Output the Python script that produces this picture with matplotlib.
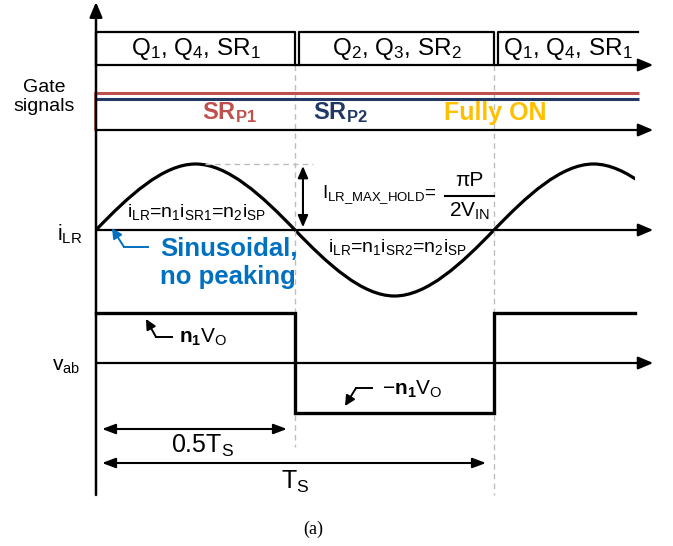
import matplotlib
matplotlib.use("Agg")
import matplotlib.pyplot as plt
import numpy as np
from matplotlib.path import Path
from matplotlib.patches import PathPatch, Rectangle
from matplotlib.transforms import Affine2D

plt.rcParams['font.family'] = ['Liberation Sans', 'DejaVu Sans']
plt.rcParams['mathtext.fontset'] = 'custom'
plt.rcParams['mathtext.rm'] = 'Liberation Sans'
plt.rcParams['mathtext.it'] = 'Liberation Sans'
plt.rcParams['mathtext.bf'] = 'Liberation Sans:bold'
plt.rcParams['mathtext.default'] = 'regular'

# ------------------------- data (time in units of Ts) -------------------------
period_start = [0.0, 0.5, 1.0]
period_end = [0.5, 1.0, 1.362]
period_labels = ['Q$_1$, Q$_4$, SR$_1$', 'Q$_2$, Q$_3$, SR$_2$', 'Q$_1$, Q$_4$, SR$_1$']

# resonant current key points (zero crossings and peaks, normalised)
ilr_t = [0.0, 0.25, 0.5, 0.75, 1.0, 1.25, 1.5]
ilr_i = [0.0, 1.0, 0.0, -1.0, 0.0, 1.0, 0.0]
ilr_end = 1.355

# bridge voltage v_ab (normalised to n1*Vo)
vab_t = [0.0, 0.5, 0.5, 1.0, 1.0, 1.355]
vab_v = [1.0, 1.0, -1.0, -1.0, 1.0, 1.0]

gate_names = ['SR$_{\\mathbf{P1}}$', 'SR$_{\\mathbf{P2}}$', 'Fully ON']
gate_colors = ['#C0504D', '#1F3864', '#FFC000']

# ------------------------- layout (pixels) -------------------------
X0 = 96          # t = 0
TS_PX = 398      # one switching period
T_ARROW = 1.40   # arrow tip of time axes

fig = plt.figure(figsize=(6.73, 5.46), dpi=100)
ax = fig.add_axes([0, 0, 1, 1])
ax.set_xlim(0, 673)
ax.set_ylim(546, 0)
ax.axis('off')


def row(y0, amp):
    return Affine2D().scale(TS_PX, -amp).translate(X0, y0) + ax.transData


def tx(t):
    return X0 + t * TS_PX


def axis_arrow(y):
    ax.annotate('', xy=(tx(T_ARROW), y), xytext=(X0, y),
                arrowprops=dict(arrowstyle='-|>,head_length=0.9,head_width=0.38',
                                lw=1.6, color='k', shrinkA=0, shrinkB=0))


dash = dict(color='#BDBDBD', lw=1.0, ls=(0, (4, 3)))

# main vertical axis
ax.annotate('', xy=(X0, 2), xytext=(X0, 495),
            arrowprops=dict(arrowstyle='-|>,head_length=0.9,head_width=0.38',
                            lw=1.8, color='k', shrinkA=0, shrinkB=0))

# dashed period markers
ax.plot([tx(0.5), tx(0.5)], [65, 447], **dash)
ax.plot([tx(1.0), tx(1.0)], [65, 495], **dash)

# ------------------------- switching intervals -------------------------
box_tr = row(65, 33)
gap = 4.0 / TS_PX
for k, (s, e, lab) in enumerate(zip(period_start, period_end, period_labels)):
    left = s + (gap if k > 0 else 0)
    if k < len(period_start) - 1:
        ax.plot([left, left, e, e], [0, 1, 1, 0], transform=box_tr, color='k', lw=1.6)
    else:
        ax.plot([left, left, e], [0, 1, 1], transform=box_tr, color='k', lw=1.6)
    ax.text((left + e) / 2, 0.5, lab, transform=box_tr, ha='center', va='center',
            fontsize=17.5)
axis_arrow(65)

# ------------------------- gate signals -------------------------
ax.plot([X0, tx(1.365)], [93, 93], color=gate_colors[0], lw=2.2, solid_capstyle='butt')
ax.plot([X0, tx(1.365)], [98.5, 98.5], color=gate_colors[1], lw=2.2, solid_capstyle='butt')
ax.plot([X0 - 1, X0 - 1], [93, 130], color=gate_colors[0], lw=1.2)
axis_arrow(130)
for name, col, xc, fs in zip(gate_names, gate_colors, [229, 340, 495], [17, 17, 18]):
    ax.text(xc, 113, name, color=col, fontsize=fs, fontweight='bold',
            ha='center', va='center')
ax.text(44, 97, 'Gate\nsignals', ha='center', va='center', fontsize=14,
        linespacing=1.2)

# ------------------------- resonant current -------------------------
ilr_tr = row(230, 66)
verts = [(ilr_t[0], ilr_i[0])]
codes = [Path.MOVETO]
for k in range(len(ilr_t) - 1):
    t0, i0, t1, i1 = ilr_t[k], ilr_i[k], ilr_t[k + 1], ilr_i[k + 1]
    dt = t1 - t0
    if i0 == 0:
        c1 = (t0 + 0.326 * dt, i0 + 0.512 * (i1 - i0))
        c2 = (t0 + 0.674 * dt, i1)
    else:
        c1 = (t0 + 0.326 * dt, i0)
        c2 = (t1 - 0.326 * dt, i1 + 0.512 * (i0 - i1))
    verts += [c1, c2, (t1, i1)]
    codes += [Path.CURVE4] * 3
wave = PathPatch(Path(verts, codes), transform=ilr_tr, fill=False, lw=2.3,
                 edgecolor='k', capstyle='butt')
ax.add_patch(wave)
wave.set_clip_path(Rectangle((X0 - 2, 100), tx(ilr_end) - X0 + 2, 250,
                             transform=ax.transData))
axis_arrow(230)

ax.plot([0.275, 0.545], [1, 1], transform=ilr_tr, **dash)
ax.annotate('', xy=(0.52, 0.97), xytext=(0.52, 0.04), xycoords=ilr_tr, textcoords=ilr_tr,
            arrowprops=dict(arrowstyle='<|-|>,head_length=0.7,head_width=0.3',
                            lw=1.5, color='k', shrinkA=0, shrinkB=0))

ax.text(70, 234, 'i$_{LR}$', ha='center', va='center', fontsize=15.5)
ax.text(127, 212, 'i$_{LR}$=n$_1$i$_{SR1}$=n$_2$i$_{SP}$', ha='left', va='center',
        fontsize=14)
ax.text(328, 247, 'i$_{LR}$=n$_1$i$_{SR2}$=n$_2$i$_{SP}$', ha='left', va='center',
        fontsize=14)
ax.text(322, 195, 'I$_{LR\\_MAX\\_HOLD}$=', ha='left', va='center', fontsize=13.5)
ax.text(469, 180, 'πP', ha='center', va='center', fontsize=15)
ax.plot([445, 494], [195.5, 195.5], color='k', lw=1.5)
ax.text(470, 211, '2V$_{IN}$', ha='center', va='center', fontsize=15)

ax.text(160, 263, 'Sinusoidal,\nno peaking', color='#0070C0', fontsize=18.5,
        fontweight='bold', ha='left', va='center', linespacing=1.2)
ax.plot([148, 124], [247, 247], color='#0070C0', lw=1.4)
ax.annotate('', xy=(112, 228), xytext=(124, 247),
            arrowprops=dict(arrowstyle='-|>,head_length=0.6,head_width=0.3',
                            lw=1.4, color='#0070C0', shrinkA=0, shrinkB=0))

# ------------------------- bridge voltage -------------------------
vab_tr = row(363, 50)
ax.plot(vab_t, vab_v, transform=vab_tr, color='k', lw=2.4, solid_joinstyle='miter')
axis_arrow(363)
ax.text(66, 367, 'v$_{ab}$', ha='center', va='center', fontsize=15)

ax.plot([172, 156], [337, 337], color='k', lw=1.4)
ax.annotate('', xy=(146, 319), xytext=(156, 337),
            arrowprops=dict(arrowstyle='-|>,head_length=0.6,head_width=0.3',
                            lw=1.4, color='k', shrinkA=0, shrinkB=0))
ax.text(179, 337, '$\\mathbf{n_1}$V$_O$', ha='left', va='center', fontsize=15)

ax.plot([372, 356], [388, 388], color='k', lw=1.4)
ax.annotate('', xy=(345, 406), xytext=(356, 388),
            arrowprops=dict(arrowstyle='-|>,head_length=0.6,head_width=0.3',
                            lw=1.4, color='k', shrinkA=0, shrinkB=0))
ax.text(382, 389, '−$\\mathbf{n_1}$V$_O$', ha='left', va='center', fontsize=15)

# ------------------------- period dimensions -------------------------
dim = dict(arrowstyle='<|-|>,head_length=0.8,head_width=0.3', lw=1.5, color='k',
           shrinkA=0, shrinkB=0)
ax.annotate('', xy=(102, 429), xytext=(287, 429), arrowprops=dim)
ax.text(203, 446, '0.5T$_S$', ha='center', va='center', fontsize=18)
ax.annotate('', xy=(102, 463), xytext=(486, 463), arrowprops=dim)
ax.text(295, 482, 'T$_S$', ha='center', va='center', fontsize=18)

ax.text(313, 529, '(a)', ha='center', va='center', fontsize=13,
        family=['Liberation Serif', 'DejaVu Serif'])

fig.savefig('out.png', dpi=100)
